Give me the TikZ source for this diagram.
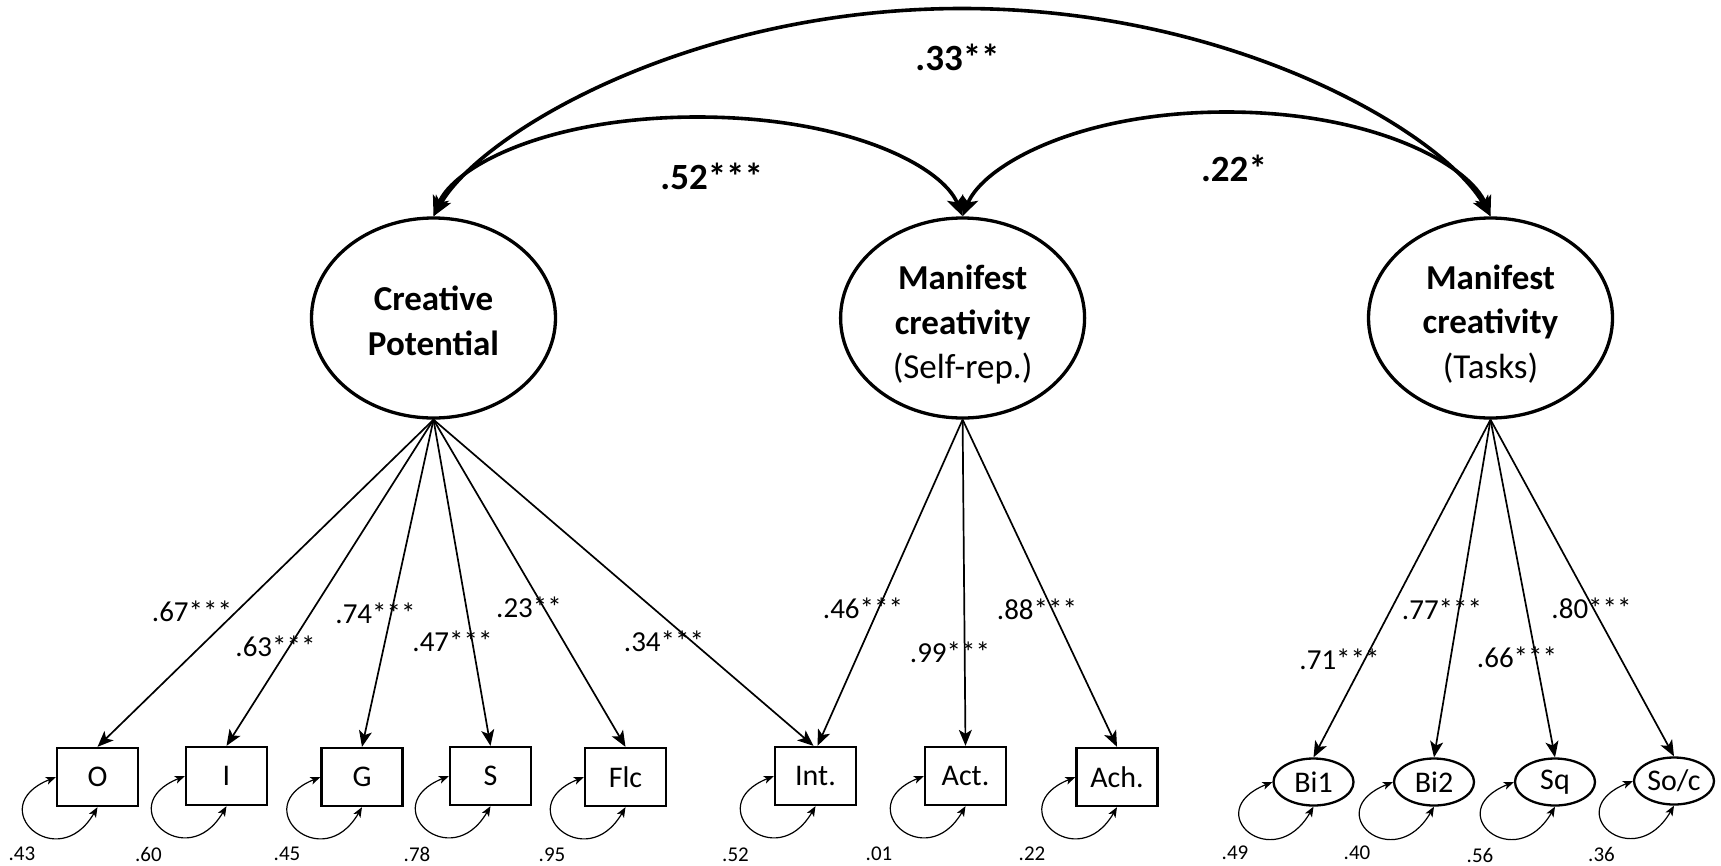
\documentclass[tikz,border=0pt]{standalone}
\usepackage{fontspec}
\setmainfont{Carlito}
\usetikzlibrary{arrows.meta,shapes.geometric}
\begin{document}
\begin{tikzpicture}[x=1pt,y=-1pt,
  latent/.style={ellipse, draw, line width=3.3pt, minimum width=244pt, minimum height=200pt, inner sep=0pt},
  lattext/.style={inner sep=0pt, align=center, font=\fontsize{35}{44.5}\selectfont},
  obs/.style={rectangle, draw, line width=2.3pt, minimum width=81pt, minimum height=58pt, inner sep=0pt, font=\fontsize{30}{36}\selectfont},
  task/.style={ellipse, draw, line width=2.3pt, minimum width=80pt, minimum height=47pt, inner sep=0pt, font=\fontsize{30}{36}\selectfont},
  load/.style={line width=1.7pt, -{Stealth[length=16pt,width=13pt,inset=4pt]}},
  corr/.style={line width=3.6pt, {Stealth[length=20pt,width=17pt,inset=5pt]}-{Stealth[length=20pt,width=17pt,inset=5pt]}},
  resid/.style={line width=1.2pt, {Stealth[length=10pt,width=8pt,inset=2.5pt]}-{Stealth[length=10pt,width=8pt,inset=2.5pt]}},
  loadlab/.style={inner sep=0pt, font=\fontsize{29}{34}\selectfont},
  corrlab/.style={inner sep=0pt, font=\bfseries\fontsize{37}{44}\selectfont},
  reslab/.style={inner sep=0pt, font=\fontsize{21}{25}\selectfont}
]
\useasboundingbox (0,0) rectangle (1721,865);

% latent variables
\node[latent] (CP) at (433.5,318) {};
\node[latent] (MS) at (962.6,318) {};
\node[latent] (MT) at (1490.5,318) {};
\node[lattext] (CPt) at (433.5,321) {\textbf{Creative}\\\textbf{Potential}};
\node[lattext] (MSt) at (962.6,325) {\textbf{Manifest}\\\textbf{creativity}\\(Self-rep.)};
\node[lattext] (MTt) at (1490.5,324) {\textbf{Manifest}\\\textbf{creativity}\\(Tasks)};

% indicators
\node[obs] (O) at (97.5,777) {O};
\node[obs] (I) at (226.5,776) {I};
\node[obs] (G) at (362,777) {G};
\node[obs] (S) at (490.5,776) {S};
\node[obs] (Flc) at (625.5,777) {Flc};
\node[obs] (Int) at (815.5,776) {Int.};
\node[obs] (Act) at (965.5,776) {Act.};
\node[obs] (Ach) at (1117,777) {Ach.};
\node[task] (Bi1) at (1313.5,782) {Bi1};
\node[task] (Bi2) at (1434,782) {Bi2};
\node[task] (Sq) at (1555,782) {Sq};
\node[task] (Soc) at (1674,781) {So/c};

% loadings
\foreach \t in {O,I,G,S,Flc} \draw[load] (CP.south) -- (\t.north);
\draw[load] (CP.south) -- ([xshift=-2pt]Int.north);
\draw[load] (MS.south) -- ([xshift=2pt]Int.north);
\foreach \t in {Act,Ach} \draw[load] (MS.south) -- (\t.north);
\foreach \t in {Bi1,Bi2,Sq,Soc} \draw[load] (MT.south) -- (\t.north);

% residual loops
\foreach \n in {O,I,G,S,Flc,Int,Act,Ach,Bi1,Bi2,Sq,Soc}
  \draw[resid] (\n.west) .. controls +(-74,30) and +(-40,69) .. (\n.south);

% correlations
\coordinate (pk1) at (697.5,117);
\coordinate (pk2) at (1226.5,112);
\coordinate (pk3) at (962,8.5);
\draw[corr] (CP.north) .. controls +(20,-50) and +(-150,0) .. (pk1) .. controls +(150,0) and +(-20,-50) .. (MS.north);
\draw[corr] (MS.north) .. controls +(20,-50) and +(-150,0) .. (pk2) .. controls +(150,0) and +(-20,-50) .. (MT.north);
\draw[corr] (CP.north) .. controls +(47,-83) and +(-272,0) .. (pk3) .. controls +(272,0) and +(-47,-83) .. (MT.north);

\node[corrlab] (c1) at (957.5,57.5) {.33**};
\node[corrlab] (c2) at (711.7,176) {.52***};
\node[corrlab] (c3) at (1234,168.5) {.22*};

% loading labels
\node[loadlab] (l1) at (192,611) {.67***};
\node[loadlab] (l2) at (275.5,646) {.63***};
\node[loadlab] (l3) at (375.5,613.5) {.74***};
\node[loadlab] (l4) at (452.5,641.5) {.47***};
\node[loadlab] (l5) at (529,607.7) {.23**};
\node[loadlab] (l6) at (664,641.5) {.34***};
\node[loadlab] (l7) at (863,608) {.46***};
\node[loadlab] (l8) at (950,652) {.99***};
\node[loadlab] (l9) at (1037,609.5) {.88***};
\node[loadlab] (l10) at (1339.5,659) {.71***};
\node[loadlab] (l11) at (1442,609) {.77***};
\node[loadlab] (l12) at (1517,657) {.66***};
\node[loadlab] (l13) at (1591.5,608) {.80***};

% residual labels
\node[reslab] (r1) at (22,854) {.43};
\node[reslab] (r2) at (148.5,854) {.60};
\node[reslab] (r3) at (287,854) {.45};
\node[reslab] (r4) at (417,854) {.78};
\node[reslab] (r5) at (552,855) {.95};
\node[reslab] (r6) at (735.5,855) {.52};
\node[reslab] (r7) at (879,854) {.01};
\node[reslab] (r8) at (1032,854) {.22};
\node[reslab] (r9) at (1235,853) {.49};
\node[reslab] (r10) at (1357,853) {.40};
\node[reslab] (r11) at (1480,855) {.56};
\node[reslab] (r12) at (1601.5,854) {.36};
\end{tikzpicture}
\end{document}
